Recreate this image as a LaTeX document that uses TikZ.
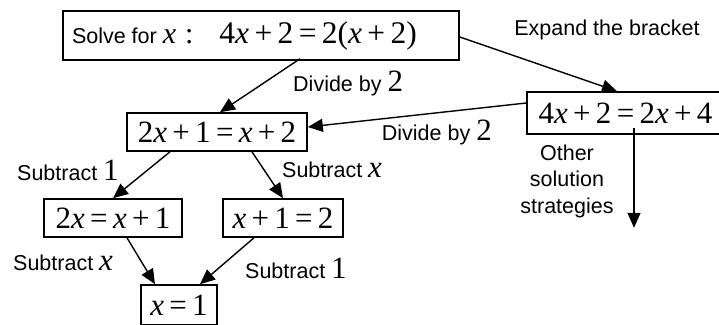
\documentclass[tikz,border=0pt]{standalone}
\usepackage{fontspec}
\setmainfont{Liberation Sans}
\newfontfamily\tms{Liberation Serif}
\usetikzlibrary{arrows.meta,calc}
\newcommand\mth[1]{{\tms\fontsize{31}{33}\selectfont #1}}
\newcommand\mthtop[1]{{\tms\fontsize{31.5}{33}\selectfont #1}}
\newcommand\vx{\textit{x}}
\newcommand\op[1]{\hspace{0.17em}#1\hspace{0.17em}}
\tikzset{
  box/.style={draw, line width=1.6pt, inner sep=0pt, align=center, font=\fontsize{21.5}{26.5}\selectfont},
  lbl/.style={inner sep=0pt, font=\fontsize{21.5}{26.5}\selectfont},
  arr/.style={line width=1.4pt, -{Triangle[length=15pt,width=13pt]}}
}
\begin{document}
\begin{tikzpicture}[x=1pt,y=-1pt]
\useasboundingbox (0,0) rectangle (719,324);
% boxes
\node[box, minimum width=396pt, minimum height=49pt] (top) at (261,35.5)
  {\makebox[378pt][l]{Solve for\ {\tms\fontsize{30}{32}\selectfont\vx\hspace{0.3em}:}\hspace{26pt}\mthtop{4\vx\op{+}2\op{=}2(\vx\op{+}2)}}};
\node[box, minimum width=197pt, minimum height=42pt] (b2) at (625.5,113) {\mth{4\vx\op{+}2\op{=}2\vx\op{+}4}};
\node[box, minimum width=180pt, minimum height=38pt] (b3) at (217,132) {\mth{2\vx\op{+}1\op{=}\vx\op{+}2}};
\node[box, minimum width=138pt, minimum height=38pt] (b4) at (113,218) {\mth{2\vx\op{=}\vx\op{+}1}};
\node[box, minimum width=120pt, minimum height=38pt] (b5) at (283,218) {\mth{\vx\op{+}1\op{=}2}};
\node[box, minimum width=76pt, minimum height=40pt] (b6) at (179,305) {\mth{\vx\op{=}1}};
% connector ends
\coordinate (oend) at ($(b2.south)+(8.5,93)$);
% arrows
\draw[arr] ($(top.south)+(39,-2)$) -- ($(b3.north)+(3,0)$);
\draw[arr] ($(top.east)+(0,1.5)$) -- ($(b2.north)+(-8.5,0)$);
\draw[arr] ($(b2.west)+(0,-10)$) -- ($(b3.east)+(0,-5)$);
\draw[arr] ($(b2.south)+(8.5,-7)$) -- (oend);
\draw[arr] ($(b3.south)+(-47,0)$) -- (b4.north);
\draw[arr] ($(b3.south)+(35,0)$) -- (b5.north);
\draw[arr] ($(b4.south)+(14,0)$) -- ($(b6.north)+(-24,0)$);
\draw[arr] ($(b5.south)+(-29,0)$) -- ($(b6.north)+(21,0)$);
% labels
\node[lbl] (l1) at (607,30) {Expand the bracket};
\node[lbl, anchor=west] (l2) at (293,83) {Divide by \mth{2}};
\node[lbl, anchor=east] (l3) at (492,132) {Divide by \mth{2}};
\node[lbl, anchor=west] (l4) at (17,170) {Subtract \mth{1}};
\node[lbl, anchor=west] (l5) at (282,170) {Subtract \mth{\vx}};
\node[lbl, anchor=west] (l6) at (13,263) {Subtract \mth{\vx}};
\node[lbl, anchor=west] (l7) at (245,268) {Subtract \mth{1}};
\node[lbl, align=center] (l8) at (567,181) {Other\\solution\\strategies};
\end{tikzpicture}
\end{document}
